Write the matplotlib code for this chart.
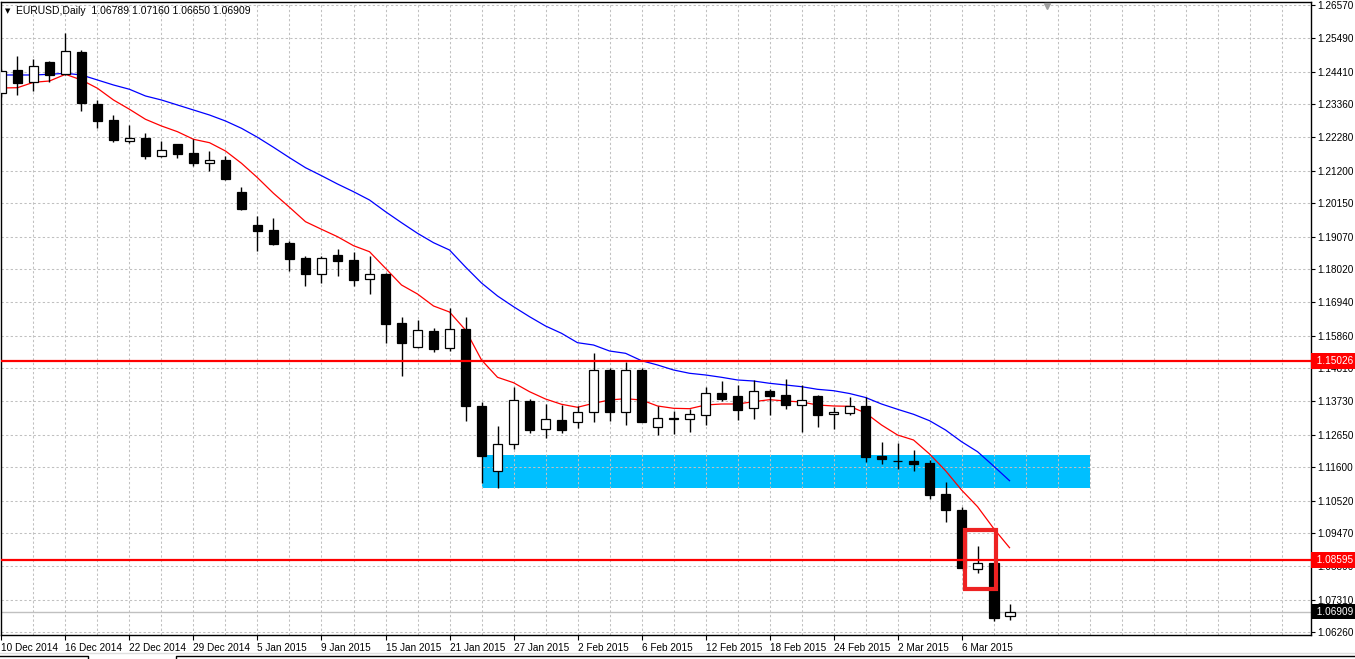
import matplotlib
matplotlib.use("Agg")
import matplotlib.pyplot as plt
import matplotlib.transforms as mtrans
from matplotlib.patches import Rectangle
from matplotlib.lines import Line2D

plt.rcParams["font.family"] = ["Liberation Sans", "DejaVu Sans"]

# EURUSD daily candles, 10 Dec 2014 .. 11 Mar 2015
opens = [1.23710, 1.24465, 1.24066, 1.24724, 1.24325, 1.25048, 1.23363, 1.22845,
         1.22175, 1.22262, 1.21689, 1.22068, 1.21776, 1.21462, 1.21550, 1.20513,
         1.19444, 1.19282, 1.18861, 1.18375, 1.17867, 1.18473, 1.18311, 1.17685,
         1.17857, 1.16270, 1.15502, 1.16011, 1.15451, 1.16066, 1.13582, 1.11467,
         1.12341, 1.13744, 1.12827, 1.13128, 1.13054, 1.13378, 1.14748, 1.13378,
         1.14748, 1.12892, 1.13203, 1.13151, 1.13280, 1.13993, 1.13896, 1.13507,
         1.14068, 1.13928, 1.13604, 1.13906, 1.13313, 1.13345, 1.13582, 1.11962,
         1.11810, 1.11810, 1.11735, 1.10731, 1.10213, 1.08292, 1.08496, 1.06789]
highs = [1.24497, 1.24918, 1.24821, 1.24756, 1.25673, 1.25112, 1.23493, 1.23007,
         1.22683, 1.22414, 1.22175, 1.22068, 1.22230, 1.21841, 1.21679, 1.20685,
         1.19736, 1.19671, 1.18926, 1.18440, 1.18440, 1.18667, 1.18579, 1.18440,
         1.17880, 1.16464, 1.16367, 1.16118, 1.16756, 1.16474, 1.13721, 1.12934,
         1.14187, 1.13808, 1.13646, 1.13604, 1.13582, 1.15308, 1.14803, 1.14997,
         1.14803, 1.13582, 1.13420, 1.13475, 1.14187, 1.14391, 1.14262, 1.14424,
         1.14142, 1.14456, 1.14262, 1.13938, 1.13559, 1.13873, 1.13863, 1.12416,
         1.12383, 1.12156, 1.11833, 1.11120, 1.10310, 1.09057, 1.08496, 1.07160]
lows = [1.23590, 1.23655, 1.23794, 1.24086, 1.24303, 1.23146, 1.22576, 1.22142,
        1.22110, 1.21582, 1.21656, 1.21624, 1.21365, 1.21203, 1.20912, 1.19930,
        1.18612, 1.18806, 1.17964, 1.17478, 1.17575, 1.17802, 1.17478, 1.17219,
        1.15632, 1.14563, 1.15470, 1.15340, 1.15373, 1.13105, 1.11078, 1.10935,
        1.12199, 1.12717, 1.12555, 1.12717, 1.12879, 1.13073, 1.13105, 1.12976,
        1.13073, 1.12652, 1.12684, 1.12749, 1.12976, 1.13753, 1.13138, 1.13170,
        1.13300, 1.13494, 1.12740, 1.12911, 1.12837, 1.13300, 1.11777, 1.11713,
        1.11551, 1.11486, 1.10569, 1.09834, 1.08344, 1.08182, 1.06627, 1.06650]
closes = [1.24432, 1.24053, 1.24585, 1.24303, 1.25070, 1.23406, 1.22822, 1.22197,
          1.22262, 1.21689, 1.21864, 1.21754, 1.21462, 1.21540, 1.20934, 1.19962,
          1.19260, 1.18829, 1.18353, 1.17867, 1.18375, 1.18288, 1.17672, 1.17847,
          1.16247, 1.15612, 1.16034, 1.15438, 1.16066, 1.13591, 1.11972, 1.12341,
          1.13776, 1.12814, 1.13161, 1.12814, 1.13378, 1.14748, 1.13397, 1.14748,
          1.13073, 1.13183, 1.13151, 1.13313, 1.13993, 1.13818, 1.13462, 1.14068,
          1.13915, 1.13624, 1.13776, 1.13300, 1.13378, 1.13572, 1.11939, 1.11875,
          1.11790, 1.11713, 1.10709, 1.10223, 1.08344, 1.08496, 1.06725, 1.06909]

# moving averages as drawn (red = fast, blue = slow)
ma_fast = [1.23882, 1.23891, 1.24066, 1.24108, 1.24325, 1.24141, 1.23872, 1.23493,
           1.23192, 1.22868, 1.22651, 1.22466, 1.22220, 1.22110, 1.21841, 1.21443,
           1.20976, 1.20471, 1.20018, 1.19551, 1.19305, 1.19065, 1.18774, 1.18579,
           1.18042, 1.17501, 1.17209, 1.16821, 1.16626, 1.16043, 1.15072, 1.14511,
           1.14336, 1.14045, 1.13808, 1.13637, 1.13540, 1.13669, 1.13776, 1.13818,
           1.13776, 1.13582, 1.13507, 1.13494, 1.13614, 1.13646, 1.13646, 1.13721,
           1.13786, 1.13744, 1.13711, 1.13614, 1.13582, 1.13572, 1.13355, 1.12966,
           1.12642, 1.12480, 1.12027, 1.11486, 1.10861, 1.10320, 1.09620, 1.08992]
ma_slow = [1.24303, 1.24303, 1.24303, 1.24325, 1.24358, 1.24303, 1.24141, 1.23979,
           1.23840, 1.23623, 1.23493, 1.23331, 1.23169, 1.23007, 1.22813, 1.22576,
           1.22285, 1.21961, 1.21624, 1.21300, 1.21041, 1.20772, 1.20523, 1.20254,
           1.19875, 1.19519, 1.19175, 1.18871, 1.18634, 1.18084, 1.17566, 1.17145,
           1.16798, 1.16474, 1.16173, 1.15936, 1.15632, 1.15557, 1.15363, 1.15288,
           1.15049, 1.14910, 1.14748, 1.14641, 1.14586, 1.14511, 1.14424, 1.14391,
           1.14317, 1.14262, 1.14207, 1.14122, 1.14077, 1.13986, 1.13857, 1.13646,
           1.13475, 1.13313, 1.13105, 1.12804, 1.12425, 1.12101, 1.11638, 1.11162]

date_labels = ["10 Dec 2014", "16 Dec 2014", "22 Dec 2014", "29 Dec 2014", "5 Jan 2015",
               "9 Jan 2015", "15 Jan 2015", "21 Jan 2015", "27 Jan 2015", "2 Feb 2015",
               "6 Feb 2015", "12 Feb 2015", "18 Feb 2015", "24 Feb 2015", "2 Mar 2015",
               "6 Mar 2015"]
date_bars = list(range(0, 64, 4))

price_ticks = [1.26570, 1.25490, 1.24410, 1.23360, 1.22280, 1.21200, 1.20150, 1.19070,
               1.18020, 1.16940, 1.15860, 1.14810, 1.13730, 1.12650, 1.11600, 1.10520,
               1.09470, 1.08390, 1.07310, 1.06260]

levels = [1.15026, 1.08595]            # red horizontal lines
zone = (30, 68, 1.10935, 1.11994)      # blue support zone: bar from, bar to, low, high
box = (60.2, 62.17, 1.07665, 1.09574)  # red highlight box
y_range = (1.06164, 1.26667)
x_range = (-0.03, 81.84)

GRID = "#c0c0c0"
RED = "#ff0000"
FS = 7.2

fig = plt.figure(figsize=(13.55, 6.59), dpi=100)
fig.patch.set_facecolor("white")
ax = fig.add_axes([1 / 1355, 24 / 659, 1310 / 1355, 633 / 659])
ax.set_xlim(*x_range)
ax.set_ylim(*y_range)

dash = (0, (2.2, 2.2))
for b in range(2, 82, 2):
    ax.axvline(b, color=GRID, lw=0.75, ls=dash, zorder=1)
for p in price_ticks:
    ax.axhline(p, color=GRID, lw=0.75, ls=dash, zorder=1)

ax.add_patch(Rectangle((zone[0], zone[2]), zone[1] - zone[0], zone[3] - zone[2],
                       fc="#00bfff", ec="none", zorder=0.5))

# current price line
ax.axhline(closes[-1], color="#c0c0c0", lw=1.0, zorder=1.5)

x = list(range(len(opens)))
ax.plot(x, ma_slow, color="#0000ff", lw=0.9, zorder=2.5)
ax.plot(x, ma_fast, color="#ff0000", lw=0.9, zorder=2.5)

ax.vlines(x, lows, highs, color="black", lw=1.0, zorder=2.9)
bottoms = [min(o, c) for o, c in zip(opens, closes)]
heights = [abs(c - o) for o, c in zip(opens, closes)]
fills = ["white" if c >= o else "black" for o, c in zip(opens, closes)]
ax.bar(x, heights, bottom=bottoms, width=0.62, color=fills, edgecolor="black",
       linewidth=0.9, zorder=3)

for p in levels:
    ax.axhline(p, color=RED, lw=1.6, zorder=4)

ax.add_patch(Rectangle((box[0], box[2]), box[1] - box[0], box[3] - box[2],
                       fc="none", ec="#ee2222", lw=3.0, zorder=5))

# axes styling
for s in ax.spines.values():
    s.set_color("black")
    s.set_linewidth(1.0)
ax.yaxis.tick_right()
ax.set_yticks(price_ticks, [f"{p:.5f}" for p in price_ticks])
ax.set_xticks(date_bars, date_labels)
for lbl in ax.get_xticklabels():
    lbl.set_ha("left")
ax.tick_params(axis="y", direction="out", length=3, width=0.8, pad=1.2,
               labelsize=FS, colors="black")
ax.tick_params(axis="x", direction="out", length=3.5, width=0.8, pad=2,
               labelsize=FS, colors="black")

# price tags on the right axis
blend = mtrans.blended_transform_factory(ax.transAxes, ax.transData)
for p in levels:
    ax.text(1.0025, p, f" {p:.5f} ", transform=blend, ha="left", va="center",
            fontsize=FS, color="white", clip_on=False, zorder=10,
            bbox=dict(boxstyle="square,pad=0.3", fc=RED, ec="none"))
ax.text(1.0025, closes[-1], f" {closes[-1]:.5f} ", transform=blend, ha="left",
        va="center", fontsize=FS, color="white", clip_on=False, zorder=10,
        bbox=dict(boxstyle="square,pad=0.25", fc="black", ec="none"))

# chart shift marker
ax.plot([(1047 - 1) / 1310], [0.993], marker="v", ms=5, color="#a0a0a0",
        transform=ax.transAxes, clip_on=False, zorder=10)

# header
fig.text(5 / 1355, 1 - 11 / 659, "\u25bc", fontsize=5, va="center",
         family="DejaVu Sans")
fig.text(16 / 1355, 1 - 11 / 659,
         f"EURUSD,Daily  {opens[-1]:.5f} {highs[-1]:.5f} {lows[-1]:.5f} {closes[-1]:.5f}",
         fontsize=7.5, va="center")

# window tab strip at the very bottom
fig.add_artist(Line2D([0, 1], [6 / 659, 6 / 659], color="#e0e0e0", lw=1.0))
yb = 3 / 659
fig.add_artist(Line2D([0, 88 / 1355, 88 / 1355], [yb, yb, 0], color="black", lw=1.0))
fig.add_artist(Line2D([176 / 1355, 176 / 1355, 1], [0, yb, yb], color="black", lw=1.0))

fig.savefig("out.png", dpi=100, facecolor="white")
